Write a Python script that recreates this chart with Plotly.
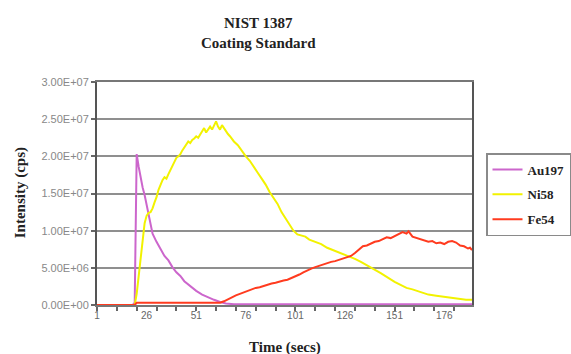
import plotly.graph_objects as go

# ---- data ----
au_t = [1, 10, 19, 20, 21, 22, 23, 24, 25, 26, 27, 28, 29, 31, 33, 35, 37, 39, 41, 43, 45,
        48, 51, 54, 57, 60, 63, 66, 70, 80, 100, 130, 160, 190]
au_v = [0, 0, 0, 0.3e6, 2.03e7, 1.86e7, 1.70e7, 1.58e7, 1.48e7, 1.36e7, 1.22e7, 1.08e7, 9.6e6,
        8.5e6, 7.6e6, 6.6e6, 6.0e6, 5.1e6, 4.4e6, 3.9e6, 3.2e6,
        2.5e6, 1.9e6, 1.4e6, 1.0e6, 0.7e6, 0.4e6, 0.2e6, 0.1e6, 0.1e6, 0.1e6, 0.1e6, 0.1e6, 0.1e6]

ni_t = [1, 10, 20, 21, 22, 23, 24, 25, 26, 27, 28, 29, 30, 31, 32, 33, 34, 35, 36, 37, 38, 39,
        40, 41, 42, 43, 44, 45, 46, 47, 48, 49, 50, 51, 52, 53, 54, 55, 56, 57, 58, 59, 60,
        61, 62, 63, 64, 65, 66, 67, 68, 70, 72, 74, 76, 78, 80, 82, 84, 86, 88, 90, 92, 94,
        96, 98, 100, 102, 104, 106, 108, 111, 114, 117, 120, 124, 128, 131, 134, 137, 140,
        144, 148, 151, 154, 157, 160, 164, 168, 172, 176, 180, 184, 187, 190]
ni_v = [0, 0, 0, 1.5e6, 4.0e6, 6.5e6, 9.0e6, 1.10e7, 1.20e7, 1.24e7, 1.25e7, 1.30e7, 1.38e7,
        1.45e7, 1.55e7, 1.63e7, 1.68e7, 1.72e7, 1.70e7, 1.76e7, 1.82e7, 1.86e7,
        1.92e7, 1.98e7, 2.00e7, 2.03e7, 2.08e7, 2.12e7, 2.17e7, 2.20e7, 2.18e7, 2.22e7,
        2.24e7, 2.27e7, 2.25e7, 2.30e7, 2.33e7, 2.38e7, 2.32e7, 2.36e7, 2.40e7, 2.36e7,
        2.42e7, 2.47e7, 2.40e7, 2.36e7, 2.42e7, 2.38e7, 2.33e7, 2.30e7, 2.27e7, 2.20e7,
        2.15e7, 2.07e7, 2.00e7, 1.94e7, 1.85e7, 1.78e7, 1.70e7, 1.62e7, 1.52e7, 1.44e7,
        1.36e7, 1.25e7, 1.17e7, 1.08e7, 1.00e7, 9.5e6, 9.3e6, 9.2e6, 8.8e6, 8.5e6, 8.2e6,
        7.7e6, 7.4e6, 7.0e6, 6.6e6, 6.2e6, 5.8e6, 5.4e6, 4.9e6, 4.3e6, 3.6e6, 3.1e6,
        2.7e6, 2.3e6, 2.1e6, 1.7e6, 1.4e6, 1.25e6, 1.1e6, 0.95e6, 0.8e6, 0.7e6, 0.7e6]

fe_t = [1, 20, 21, 40, 61, 63, 65, 67, 69, 71, 73, 75, 77, 79, 81, 83, 85, 87, 89, 91, 93, 95,
        97, 99, 101, 103, 105, 107, 109, 111, 113, 115, 117, 119, 121, 123, 125, 127, 129,
        131, 133, 135, 137, 139, 141, 143, 145, 147, 149, 151, 153, 155, 157, 158, 160, 162,
        164, 166, 168, 170, 172, 174, 176, 178, 180, 182, 184, 186, 188, 189, 190]
fe_v = [0, 0, 0.3e6, 0.3e6, 0.3e6, 0.3e6, 0.5e6, 0.8e6, 1.1e6, 1.3e6, 1.5e6, 1.7e6, 2.0e6,
        2.1e6, 2.3e6, 2.4e6, 2.6e6, 2.7e6, 2.9e6, 3.0e6, 3.2e6, 3.3e6, 3.4e6, 3.6e6, 3.8e6,
        4.1e6, 4.4e6, 4.7e6, 4.9e6, 5.1e6, 5.3e6, 5.5e6, 5.6e6, 5.8e6, 5.9e6, 6.1e6, 6.3e6,
        6.4e6, 6.6e6, 7.0e6, 7.5e6, 7.9e6, 8.0e6, 8.3e6, 8.5e6, 8.6e6, 8.9e6, 9.1e6, 9.0e6,
        9.3e6, 9.5e6, 9.8e6, 9.6e6, 9.9e6, 9.2e6, 9.0e6, 8.8e6, 8.7e6, 8.5e6, 8.6e6, 8.3e6,
        8.4e6, 8.2e6, 8.5e6, 8.6e6, 8.4e6, 8.0e6, 7.9e6, 7.6e6, 7.7e6, 7.4e6]

series_names = ["Au197", "Ni58", "Fe54"]
series_colors = ["#cc66cc", "#f2f200", "#ff3b1f"]

x_tickvals = [1, 26, 51, 76, 101, 126, 151, 176]
x_ticktext = ["1", "26", "51", "76", "101", "126", "151", "176"]
y_tickvals = [0, 5e6, 1e7, 1.5e7, 2e7, 2.5e7, 3e7]
y_ticktext = ["0.00E+00", "5.00E+06", "1.00E+07", "1.50E+07", "2.00E+07", "2.50E+07", "3.00E+07"]

serif = "Liberation Serif"
sans = "Liberation Sans"

fig = go.Figure()
for t, v, n, c in zip([au_t, ni_t, fe_t], [au_v, ni_v, fe_v], series_names, series_colors):
    fig.add_trace(go.Scatter(x=t, y=v, mode="lines", name="<b>%s</b>" % n, legendgroup=n,
                             line=dict(color=c, width=2)))

fig.update_layout(
    width=571, height=354,
    margin=dict(l=97, r=93, t=82, b=49),
    paper_bgcolor="white", plot_bgcolor="white",
    showlegend=True,
    legend=dict(xref="container", yref="container", x=486 / 571, y=1 - 153 / 354,
                xanchor="left", yanchor="top",
                bordercolor="#8a8a8a", borderwidth=1.5, bgcolor="white",
                font=dict(family=serif, size=13, color="#222222"),
                itemwidth=30, tracegroupgap=5, entrywidth=40, entrywidthmode="pixels"),
    annotations=[
        dict(text="<b>NIST 1387</b>", xref="paper", yref="paper", x=(261 - 97) / 381,
             y=(305 - 23) / 223, showarrow=False, xanchor="center", yanchor="middle",
             font=dict(family=serif, size=15, color="#222222")),
        dict(text="<b>Coating Standard</b>", xref="paper", yref="paper", x=(261 - 97) / 381,
             y=(305 - 43) / 223, showarrow=False, xanchor="center", yanchor="middle",
             font=dict(family=serif, size=15, color="#222222")),
        dict(text="<b>Intensity (cps)</b>", xref="paper", yref="paper", x=(19 - 97) / 381,
             y=(305 - 193) / 223, showarrow=False, xanchor="center", yanchor="middle",
             textangle=-90, font=dict(family=serif, size=15, color="#222222")),
        dict(text="<b>Time (secs)</b>", xref="paper", yref="paper", x=(288 - 97) / 381,
             y=(305 - 347) / 223, showarrow=False, xanchor="center", yanchor="middle",
             font=dict(family=serif, size=15, color="#222222")),
    ],
)

fig.update_xaxes(range=[1, 190], tickmode="array", tickvals=x_tickvals, ticktext=x_ticktext,
                 ticks="", showgrid=False, zeroline=False,
                 showline=True, linecolor="#777777", linewidth=2, mirror=True,
                 tickfont=dict(family=sans, size=10, color="#666666"),
                 minor=dict(tick0=1, dtick=10, ticks="outside", ticklen=4,
                            tickcolor="#666666", tickwidth=1.5, showgrid=False))
fig.update_yaxes(range=[0, 3e7], tickmode="array", tickvals=y_tickvals, ticktext=y_ticktext,
                 ticks="outside", ticklen=4, tickcolor="#666666", tickwidth=1.5,
                 showgrid=True, gridcolor="#8f8f8f", gridwidth=2, zeroline=False,
                 showline=True, linecolor="#555555", linewidth=2, mirror=True,
                 tickfont=dict(family=sans, size=11, color="#888888"))

fig.write_html("out.html")
